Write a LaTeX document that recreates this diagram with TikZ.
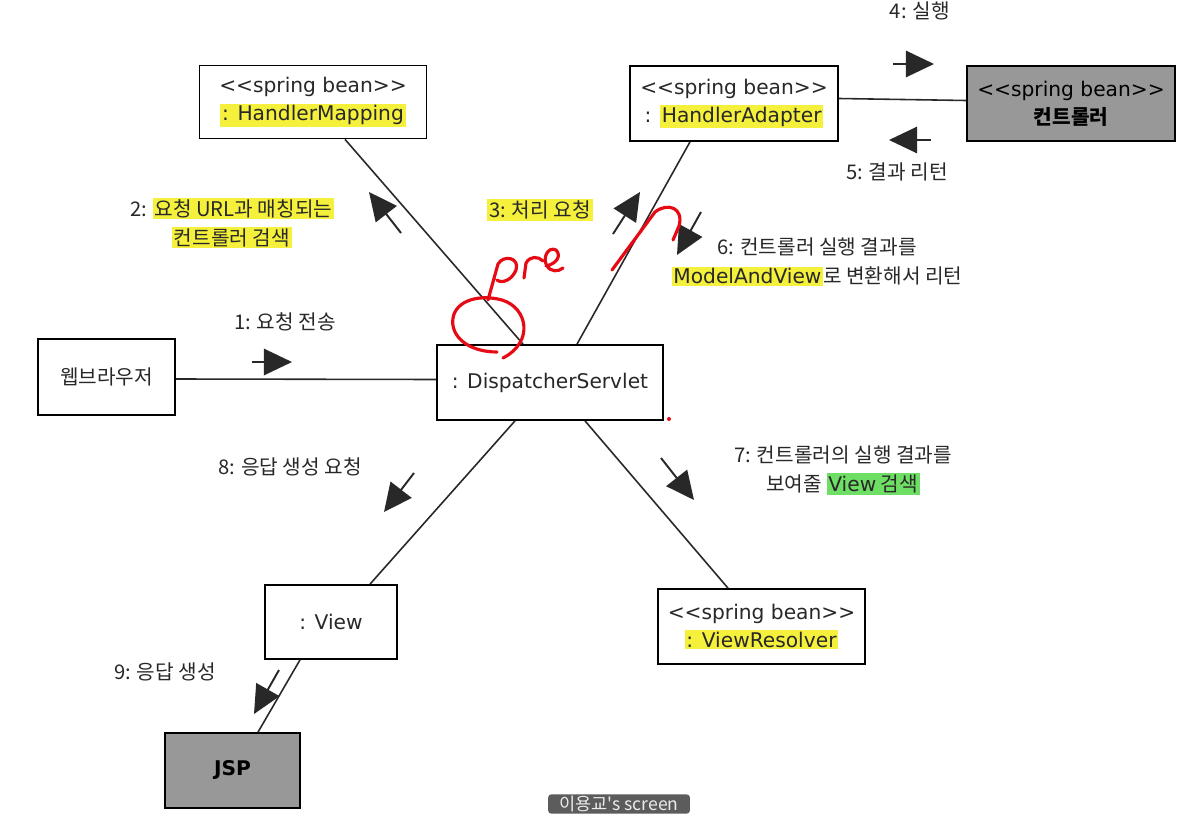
\documentclass[tikz,border=0pt]{standalone}
\usepackage{fontspec}
\setmainfont{DejaVu Sans}
\newfontfamily\kofont{Noto Sans CJK KR}
\usetikzlibrary{positioning,arrows.meta,calc}
\definecolor{hlyellow}{RGB}{244,240,60}
\definecolor{hlgreen}{RGB}{110,222,100}
\definecolor{beangray}{RGB}{152,152,152}
\definecolor{inkgray}{RGB}{40,40,40}
\definecolor{penred}{RGB}{230,10,20}
\definecolor{tabgray}{RGB}{92,92,92}
\newcommand{\lat}[1]{{\rmfamily #1}}
\newcommand{\hly}[1]{{\setlength{\fboxsep}{1pt}\colorbox{hlyellow}{#1}}}
\newcommand{\hlg}[1]{{\setlength{\fboxsep}{1pt}\colorbox{hlgreen}{#1}}}
\tikzset{
  objbox/.style={draw=black, line width=1pt, fill=white, minimum width=4.2cm, minimum height=1.5cm, align=center, inner sep=2pt, text=inkgray},
  beanbox/.style={objbox, fill=beangray, text=black},
  link/.style={draw=inkgray, line width=0.9pt},
  msgarrow/.style={-{Triangle[length=16pt,width=15pt]}, line width=1.1pt, inkgray},
  msglabel/.style={font=\kofont\fontsize{11.5}{16.5}\selectfont, text=inkgray, align=center, inner sep=0pt},
  redpen/.style={penred, line width=1.8pt, line cap=round, line join=round}
}

\begin{document}
\begin{tikzpicture}[x=0.02cm, y=-0.02cm, every node/.style={font=\fontsize{11.5}{16}\selectfont}]
  \useasboundingbox (0,0) rectangle (1203,814);
  \clip (0,0) rectangle (1203,814);
  \fill[white] (0,0) rectangle (1203,814);

  % objects
  \node[objbox, minimum width=4.54cm, minimum height=1.46cm] (hm) at (313,102) {<{}<spring bean>{}>\\\hly{: HandlerMapping}};
  \node[objbox, minimum width=4.16cm] (ha) at (734,103.5) {<{}<spring bean>{}>\\: \hly{HandlerAdapter}};
  \node[beanbox, minimum width=4.16cm] (ctl) at (1071,103.5) {<{}<spring bean>{}>\\{\kofont\bfseries 컨트롤러}};
  \node[objbox, minimum width=2.74cm, minimum height=1.52cm] (web) at (106.5,377) {\kofont 웹브라우저};
  \node[objbox, minimum width=4.52cm] (ds) at (550,382.5) {: DispatcherServlet};
  \node[objbox, minimum width=2.64cm, minimum height=1.48cm] (view) at (331,622) {: View};
  \node[objbox, minimum width=4.14cm] (vr) at (761.5,626.5) {<{}<spring bean>{}>\\\hly{: ViewResolver}};
  \node[beanbox, minimum width=2.7cm] (jsp) at (232.5,770.5) {\bfseries JSP};

  % links
  \draw[link] ([yshift=-0.04cm]web.east) -- ([yshift=0.06cm]ds.west);
  \draw[link] ([xshift=0.64cm]hm.south) -- ([xshift=-0.54cm]ds.north);
  \draw[link] ([xshift=-0.88cm]ha.south) -- ([xshift=0.54cm]ds.north);
  \draw[link] ([yshift=0.1cm]ha.east) -- ([yshift=0.06cm]ctl.west);
  \draw[link] ([xshift=-0.7cm]ds.south) -- ([xshift=0.78cm]view.north);
  \draw[link] ([xshift=0.7cm]ds.south) -- ([xshift=-0.67cm]vr.north);
  \draw[link] ([xshift=-0.62cm]view.south) -- ([xshift=0.51cm]jsp.north);

  % messages
  \coordinate (m1a) at (252,362); \coordinate (m1b) at (292,362);
  \coordinate (m2a) at (401,233); \coordinate (m2b) at (369,192);
  \coordinate (m3a) at (613,234); \coordinate (m3b) at (640,192);
  \coordinate (m4a) at (893,64);  \coordinate (m4b) at (934,64);
  \coordinate (m5a) at (931,140); \coordinate (m5b) at (889,140);
  \coordinate (m6a) at (701,212); \coordinate (m6b) at (677,255);
  \coordinate (m7a) at (661,458); \coordinate (m7b) at (694,500);
  \coordinate (m8a) at (414,473); \coordinate (m8b) at (384,512);
  \coordinate (m9a) at (279,670); \coordinate (m9b) at (254,714);
  \foreach \m in {1,...,9}
    \draw[msgarrow] (m\m a) -- (m\m b);

  \node[msglabel] (l1) at (285,322) {1: 요청 전송};
  \node[msglabel] (l2) at (232,223) {2: \hly{요청 URL과 매칭되는}\\\hly{컨트롤러 검색}};
  \node[msglabel] (l3) at (540,210) {\hly{3: 처리 요청}};
  \node[msglabel] (l4) at (920,11) {4: 실행};
  \node[msglabel] (l5) at (897,172) {5: 결과 리턴};
  \node[msglabel] (l6) at (817,262) {6: 컨트롤러 실행 결과를\\\hly{\lat{ModelAndView}}로 변환해서 리턴};
  \node[msglabel] (l7) at (843,470) {7: 컨트롤러의 실행 결과를\\보여줄 \hlg{\lat{View} 검색}};
  \node[msglabel] (l8) at (290,467) {8: 응답 생성 요청};
  \node[msglabel] (l9) at (165,672) {9: 응답 생성};

  % pen marks
  \draw[redpen] (488,300) -- (498,264) .. controls (504,254) and (520,258) .. (516,270) .. controls (512,280) and (502,284) .. (497,280);
  \draw[redpen] (524,278) -- (526,263) .. controls (530,256) and (538,256) .. (543,261);
  \draw[redpen] (546,266) .. controls (556,264) and (562,256) .. (556,250) .. controls (548,246) and (542,258) .. (547,266) .. controls (551,272) and (558,272) .. (563,268);
  \draw[redpen] (497,352) .. controls (468,352) and (450,336) .. (453,318) .. controls (456,300) and (480,294) .. (502,300) .. controls (528,308) and (534,342) .. (503,358);
  \draw[redpen] (612,270) -- (655,212) .. controls (668,202) and (684,208) .. (679,226) -- (673,240);
  \fill[penred] (669,419) circle (2);

  % screen tab
  \node[fill=tabgray, text=white!92!black, rounded corners=2pt, minimum width=2.84cm, minimum height=0.36cm, inner sep=1pt, font=\kofont\fontsize{10}{12}\selectfont] (tab) at (619,804) {이용교's screen};
\end{tikzpicture}
\end{document}
